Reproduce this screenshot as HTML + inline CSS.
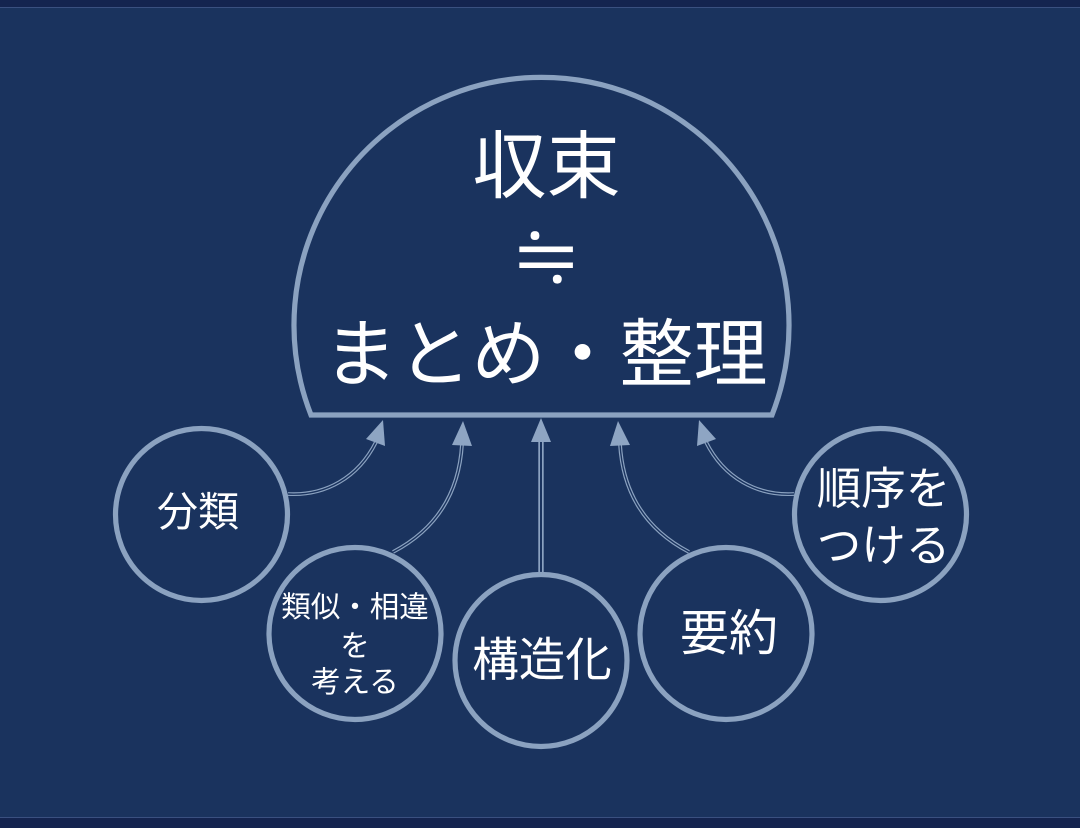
<!DOCTYPE html>
<html lang="ja"><head><meta charset="utf-8"><style>
html,body{margin:0;padding:0;background:#1a335e}
svg{display:block}
text{font-family:"Liberation Sans","Noto Sans CJK JP",sans-serif;fill:#fff;text-anchor:middle;font-weight:400}
</style></head><body>
<svg width="1080" height="828" viewBox="0 0 1080 828" xmlns="http://www.w3.org/2000/svg">
<rect width="1080" height="828" fill="#1a335e"/>
<rect width="1080" height="7" fill="#14244f"/>
<rect y="7" width="1080" height="1" fill="#3a5080"/>
<rect y="817" width="1080" height="1" fill="#3a5080"/>
<rect y="818" width="1080" height="10" fill="#14244f"/>
<g fill="none" stroke="#8ba2c0" stroke-width="3.8">
<path d="M288 494C325 496 358 478 376 442"/>
<path d="M393 552C435 530 459 495 462 444"/>
<path d="M689 552C647 530 623 495 620 444"/>
<path d="M794 494C757 496 724 478 706 442"/>
</g>
<path d="M541 573V440" fill="none" stroke="#8ba2c0" stroke-width="5.400"/>
<g fill="none" stroke="#1a335e" stroke-width="1.400">
<path d="M288 494C325 496 358 478 376 442"/>
<path d="M393 552C435 530 459 495 462 444"/>
<path d="M689 552C647 530 623 495 620 444"/>
<path d="M794 494C757 496 724 478 706 442"/>
</g>
<path d="M541 573V440" fill="none" stroke="#1a335e" stroke-width="2"/>
<g fill="#8ea5c3">
<polygon points="383,420 366,439 385,446"/>
<polygon points="463,421 452,445 472,446"/>
<polygon points="541,418 531,442 551,442"/>
<polygon points="618,421 610,446 630,445"/>
<polygon points="699,420 697,446 716,439"/>
</g>
<g fill="#1a335e" stroke="#8ba2c0" stroke-width="5.200">
<path d="M311 415A247.500 247.500 0 1 1 772 415Z"/>
<circle cx="201.500" cy="514.500" r="86"/>
<circle cx="355" cy="633.500" r="86"/>
<circle cx="541" cy="660.500" r="86"/>
<circle cx="726" cy="633.500" r="86"/>
<circle cx="880.500" cy="514.500" r="86"/>
</g>
<text x="546.500" y="192" font-size="74">収束</text>
<text x="546" y="287" font-size="78" style="font-family:IPAGothic,sans-serif">≒</text>
<text x="545.500" y="380" font-size="74">まとめ・整理</text>
<text x="198" y="526" font-size="41">分類</text>
<text x="355" y="617" font-size="29.500">類似・相違</text>
<text x="355" y="656" font-size="29.500">を</text>
<text x="355" y="692" font-size="29.500">考える</text>
<text x="542" y="676" font-size="46.500">構造化</text>
<text x="729" y="650" font-size="49">要約</text>
<text x="883.500" y="504" font-size="44.500">順序を</text>
<text x="883.500" y="561" font-size="44.500">つける</text>
</svg>
</body></html>
